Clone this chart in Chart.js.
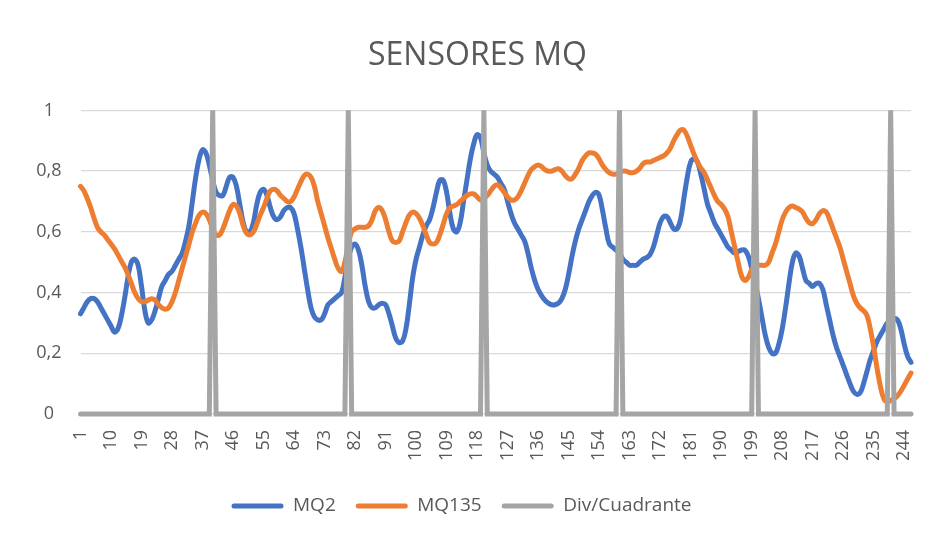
<!DOCTYPE html>
<html lang="es">
<head>
<meta charset="utf-8">
<title>Sensores MQ</title>
<script src="https://cdn.jsdelivr.net/npm/chart.js@4.4.1/dist/chart.umd.min.js"></script>
<style>
  html, body { margin: 0; padding: 0; background: #ffffff; }
  #wrap { width: 933px; height: 537px; }
</style>
</head>
<body>
<div id="wrap"><canvas id="mq-chart" width="933" height="537"></canvas></div>
<script>
// muestras 1..246
const categories = Array.from({ length: 246 }, (_, i) => String(i + 1));
const labelEvery = 9;

const mq2 = [
  0.33, 0.35, 0.37, 0.38, 0.38, 0.37, 0.35, 0.33, 0.31, 0.29,
  0.27, 0.28, 0.32, 0.38, 0.45, 0.50, 0.51, 0.49, 0.42, 0.34,
  0.30, 0.31, 0.34, 0.38, 0.42, 0.44, 0.46, 0.47, 0.49, 0.51,
  0.53, 0.57, 0.62, 0.70, 0.78, 0.84, 0.87, 0.86, 0.82, 0.77,
  0.73, 0.72, 0.72, 0.75, 0.78, 0.78, 0.75, 0.69, 0.63, 0.60,
  0.60, 0.63, 0.69, 0.73, 0.74, 0.72, 0.68, 0.65, 0.64, 0.65,
  0.67, 0.68, 0.68, 0.66, 0.61, 0.55, 0.48, 0.41, 0.35, 0.32,
  0.31, 0.31, 0.33, 0.36, 0.37, 0.38, 0.39, 0.40, 0.45, 0.51,
  0.55, 0.56, 0.54, 0.49, 0.42, 0.37, 0.35, 0.35, 0.36, 0.365,
  0.36, 0.33, 0.29, 0.25, 0.235, 0.24, 0.28, 0.36, 0.45, 0.51,
  0.55, 0.59, 0.62, 0.64, 0.68, 0.73, 0.77, 0.77, 0.73, 0.66,
  0.61, 0.60, 0.63, 0.70, 0.77, 0.84, 0.89, 0.92, 0.91, 0.86,
  0.82, 0.80, 0.79, 0.78, 0.76, 0.74, 0.70, 0.66, 0.63, 0.61,
  0.59, 0.57, 0.53, 0.48, 0.44, 0.41, 0.39, 0.375, 0.365, 0.36,
  0.36, 0.365, 0.38, 0.41, 0.46, 0.52, 0.57, 0.61, 0.64, 0.67,
  0.70, 0.72, 0.73, 0.72, 0.67, 0.61, 0.56, 0.55, 0.54, 0.53,
  0.51, 0.50, 0.49, 0.49, 0.49, 0.50, 0.51, 0.515, 0.525, 0.55,
  0.59, 0.63, 0.65, 0.65, 0.63, 0.61, 0.61, 0.64, 0.71, 0.78,
  0.83, 0.84, 0.83, 0.79, 0.74, 0.69, 0.66, 0.63, 0.61, 0.59,
  0.57, 0.55, 0.54, 0.53, 0.535, 0.54, 0.54, 0.52, 0.48, 0.43,
  0.38, 0.32, 0.26, 0.22, 0.20, 0.20, 0.23, 0.28, 0.35, 0.43,
  0.50, 0.53, 0.52, 0.48, 0.44, 0.43, 0.42, 0.43, 0.43, 0.41,
  0.36, 0.31, 0.26, 0.22, 0.19, 0.16, 0.13, 0.10, 0.075, 0.065,
  0.07, 0.10, 0.14, 0.18, 0.21, 0.24, 0.26, 0.28, 0.30, 0.31,
  0.315, 0.31, 0.28, 0.23, 0.19, 0.17,
];

const mq135 = [
  0.75, 0.735, 0.71, 0.68, 0.645, 0.615, 0.60, 0.59, 0.575, 0.56,
  0.545, 0.525, 0.505, 0.485, 0.46, 0.43, 0.40, 0.38, 0.37, 0.37,
  0.375, 0.38, 0.375, 0.36, 0.35, 0.345, 0.35, 0.37, 0.40, 0.44,
  0.48, 0.52, 0.56, 0.60, 0.63, 0.655, 0.665, 0.66, 0.64, 0.61,
  0.59, 0.59, 0.61, 0.64, 0.67, 0.69, 0.685, 0.66, 0.62, 0.595,
  0.59, 0.60, 0.625, 0.655, 0.68, 0.71, 0.735, 0.74, 0.735, 0.72,
  0.71, 0.70, 0.70, 0.715, 0.74, 0.765, 0.785, 0.79, 0.78, 0.75,
  0.70, 0.66, 0.62, 0.58, 0.545, 0.51, 0.48, 0.47, 0.50, 0.56,
  0.60, 0.61, 0.615, 0.615, 0.615, 0.62, 0.64, 0.67, 0.68, 0.67,
  0.64, 0.60, 0.57, 0.565, 0.57, 0.60, 0.63, 0.655, 0.665, 0.66,
  0.645, 0.62, 0.59, 0.565, 0.56, 0.565, 0.59, 0.625, 0.66, 0.68,
  0.685, 0.69, 0.70, 0.71, 0.72, 0.725, 0.725, 0.715, 0.705, 0.71,
  0.72, 0.735, 0.75, 0.755, 0.745, 0.73, 0.715, 0.705, 0.705, 0.715,
  0.735, 0.76, 0.785, 0.805, 0.815, 0.82, 0.815, 0.805, 0.80, 0.80,
  0.805, 0.808, 0.80, 0.785, 0.775, 0.775, 0.79, 0.81, 0.835, 0.85,
  0.86, 0.86, 0.855, 0.84, 0.82, 0.805, 0.795, 0.79, 0.79, 0.795,
  0.80, 0.80, 0.795, 0.795, 0.80, 0.81, 0.825, 0.83, 0.83, 0.835,
  0.84, 0.845, 0.85, 0.86, 0.875, 0.90, 0.92, 0.935, 0.935, 0.915,
  0.885, 0.855, 0.83, 0.81, 0.795, 0.77, 0.745, 0.72, 0.70, 0.69,
  0.675, 0.65, 0.60, 0.55, 0.50, 0.455, 0.44, 0.45, 0.475, 0.49,
  0.49, 0.49, 0.49, 0.50, 0.53, 0.56, 0.60, 0.64, 0.665, 0.68,
  0.685, 0.68, 0.675, 0.665, 0.645, 0.63, 0.627, 0.64, 0.66, 0.67,
  0.665, 0.64, 0.61, 0.58, 0.55, 0.51, 0.47, 0.43, 0.39, 0.365,
  0.35, 0.34, 0.325, 0.28, 0.22, 0.15, 0.09, 0.05, 0.04, 0.045,
  0.05, 0.06, 0.075, 0.095, 0.115, 0.135,
];

// marca de cambio de cuadrante cada 40 muestras
const divCuadrante = [
  0,0,0,0,0,0,0,0,0,0, 0,0,0,0,0,0,0,0,0,0, 0,0,0,0,0,0,0,0,0,0, 0,0,0,0,0,0,0,0,0,1,
  0,0,0,0,0,0,0,0,0,0, 0,0,0,0,0,0,0,0,0,0, 0,0,0,0,0,0,0,0,0,0, 0,0,0,0,0,0,0,0,0,1,
  0,0,0,0,0,0,0,0,0,0, 0,0,0,0,0,0,0,0,0,0, 0,0,0,0,0,0,0,0,0,0, 0,0,0,0,0,0,0,0,0,1,
  0,0,0,0,0,0,0,0,0,0, 0,0,0,0,0,0,0,0,0,0, 0,0,0,0,0,0,0,0,0,0, 0,0,0,0,0,0,0,0,0,1,
  0,0,0,0,0,0,0,0,0,0, 0,0,0,0,0,0,0,0,0,0, 0,0,0,0,0,0,0,0,0,0, 0,0,0,0,0,0,0,0,0,1,
  0,0,0,0,0,0,0,0,0,0, 0,0,0,0,0,0,0,0,0,0, 0,0,0,0,0,0,0,0,0,0, 0,0,0,0,0,0,0,0,0,1,
  0,0,0,0,0,0,
];

const yTicks = [0, 0.2, 0.4, 0.6, 0.8, 1];

const textColor = "#595959";
Chart.defaults.font.family = "'Open Sans', 'Noto Sans', sans-serif";
Chart.defaults.color = textColor;

// title and legend sit a little off the chart's centre line
const nudgeBlocks = {
  id: "nudgeBlocks",
  afterLayout(chart) {
    chart.titleBlock.left += 22;
    chart.titleBlock.right += 22;
    chart.legend.left += 6;
    chart.legend.right += 6;
  },
};

// thick lines: let them spill past the plot edges (zero line, peaks)
const lineStyle = {
  borderWidth: 5,
  pointRadius: 0,
  pointHoverRadius: 0,
  borderCapStyle: "round",
  clip: 6,
};

const ctx = document.getElementById("mq-chart").getContext("2d");
const chart = new Chart(ctx, {
  type: "line",
  data: {
    labels: categories,
    datasets: [
      {
        ...lineStyle,
        label: "MQ2",
        data: mq2,
        borderColor: "#4472C4",
        backgroundColor: "#4472C4",
        borderJoinStyle: "round",
        tension: 0.4,
        order: 3,
      },
      {
        ...lineStyle,
        label: "MQ135",
        data: mq135,
        borderColor: "#ED7D31",
        backgroundColor: "#ED7D31",
        borderJoinStyle: "round",
        tension: 0.4,
        order: 2,
      },
      {
        ...lineStyle,
        label: "Div/Cuadrante",
        data: divCuadrante,
        borderColor: "#A5A5A5",
        backgroundColor: "#A5A5A5",
        tension: 0,
        order: 1,
      },
    ],
  },
  options: {
    responsive: false,
    animation: false,
    devicePixelRatio: 1,
    layout: { padding: { left: 0, right: 22, top: 0, bottom: 11.5 } },
    scales: {
      x: {
        grid: { display: false, drawTicks: false },
        border: { display: false },
        ticks: {
          autoSkip: false,
          minRotation: 90,
          maxRotation: 90,
          padding: 16,
          font: { size: 18 },
          color: textColor,
          callback: (value, index) => (index % labelEvery === 0 ? categories[index] : null),
        },
        afterFit: (scale) => {
          scale.height = 62.5;
          scale.paddingLeft = 0;
          scale.paddingRight = 0;
        },
      },
      y: {
        min: 0,
        max: 1,
        grid: { color: "#D9D9D9", lineWidth: 1.3, drawTicks: false },
        border: { display: false },
        afterBuildTicks: (scale) => { scale.ticks = yTicks.map((v) => ({ value: v })); },
        ticks: {
          padding: 19,
          crossAlign: "center",
          font: { size: 18 },
          color: textColor,
          callback: (value) => String(Math.round(value * 10) / 10).replace(".", ","),
        },
        afterFit: (scale) => { scale.width = 80.5; },
      },
    },
    plugins: {
      title: {
        display: true,
        text: "SENSORES MQ",
        color: textColor,
        font: { size: 32, weight: "normal" },
        padding: { top: 37, bottom: 35 },
      },
      legend: {
        position: "bottom",
        labels: {
          boxWidth: 52,
          boxHeight: 5,
          padding: 20,
          useBorderRadius: true,
          borderRadius: 2.5,
          color: textColor,
          font: { size: 19 },
          sort: (a, b) => a.datasetIndex - b.datasetIndex,
          generateLabels: (c) =>
            Chart.defaults.plugins.legend.labels.generateLabels(c).map((item) => ({
              ...item,
              fillStyle: item.strokeStyle,
              lineWidth: 0,
            })),
        },
      },
      tooltip: { enabled: false },
    },
  },
  plugins: [nudgeBlocks],
});
</script>
</body>
</html>
